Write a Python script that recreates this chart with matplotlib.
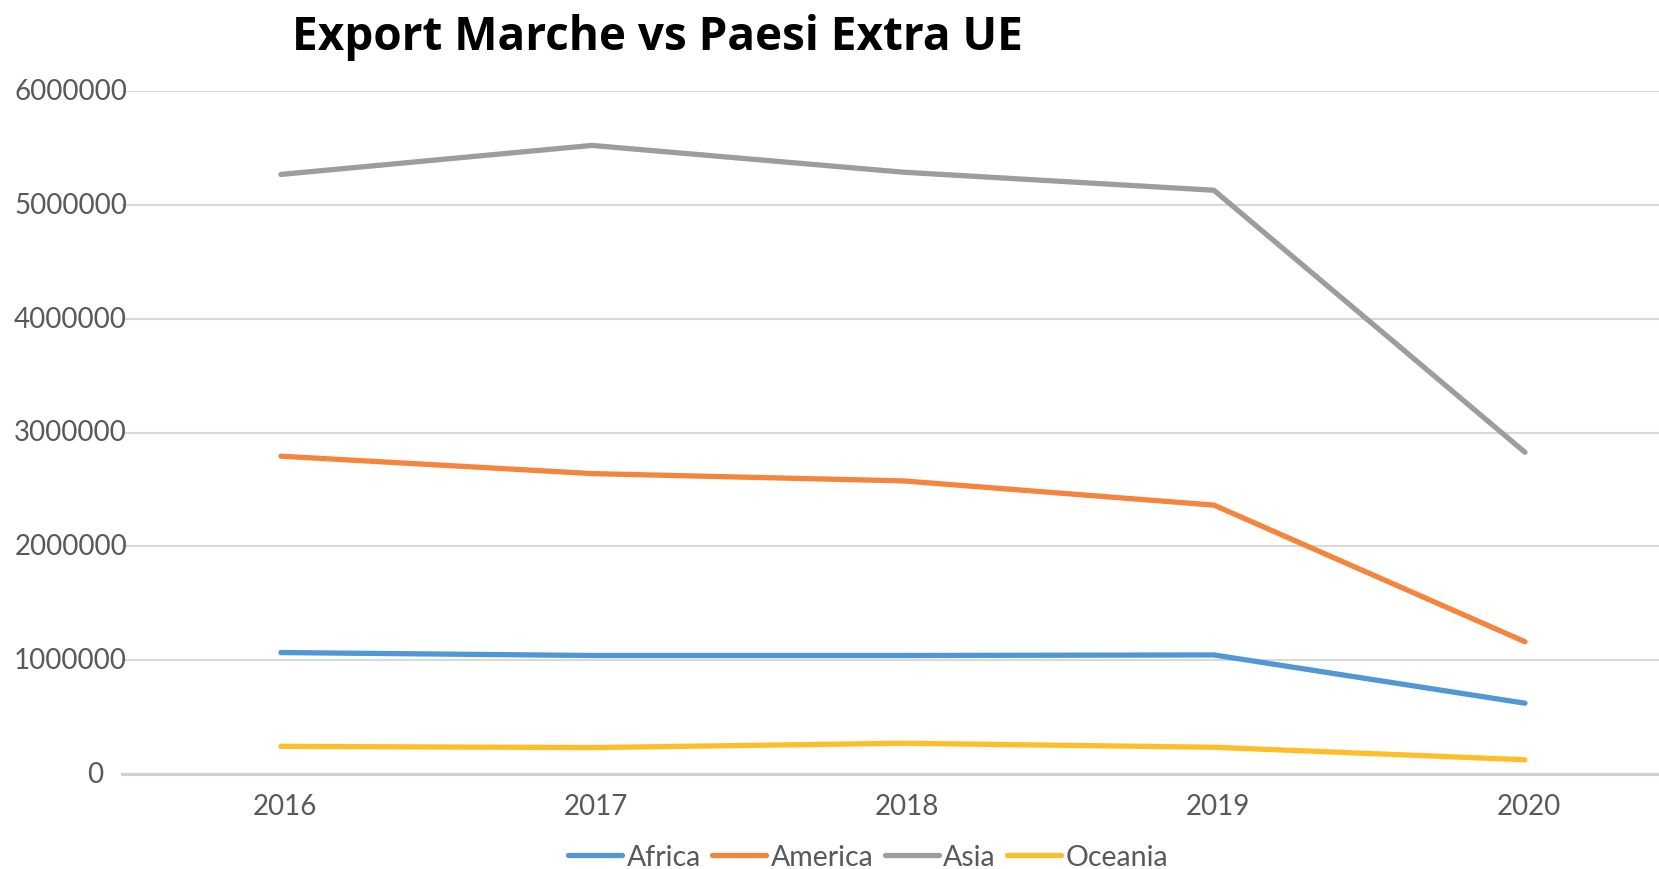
import numpy as np
import matplotlib
matplotlib.use("Agg")
import matplotlib.pyplot as plt
from matplotlib.transforms import ScaledTranslation

years = ['2016', '2017', '2018', '2019', '2020']
africa = [1067000, 1041000, 1041000, 1046000, 622000]
america = [2792000, 2639000, 2575000, 2362000, 1162000]
asia = [5267000, 5522000, 5287000, 5128000, 2826000]
oceania = [243000, 232000, 270000, 235000, 125000]

series = [('Africa', africa, '#5097d5'),
          ('America', america, '#f5843c'),
          ('Asia', asia, '#9c9e9e'),
          ('Oceania', oceania, '#fdbe2a')]

y_ticks = [0, 1000000, 2000000, 3000000, 4000000, 5000000, 6000000]

plt.rcParams['font.family'] = ['Lato', 'DejaVu Sans']
text_col = '#595959'

fig = plt.figure(figsize=(16.59, 8.70), dpi=100)
ax = fig.add_axes([122 / 1659, 95 / 870, 1 - 122 / 1659, 683 / 870])

x = np.arange(len(years))
for name, vals, col in series:
    ax.plot(x, vals, color=col, lw=3.8, label=name,
            solid_capstyle='round', solid_joinstyle='round', zorder=3)

ax.set_xlim(-0.511, 4.431)
ax.set_ylim(0, 6000000)

# gridlines
for v in y_ticks[1:]:
    ax.axhline(v, color='#d9d9d9', lw=1.5, zorder=1)
ax.axhline(0, color='#d0d0d0', lw=2.3, zorder=2, clip_on=False)

for s in ax.spines.values():
    s.set_visible(False)
ax.set_yticks([])
ax.set_xticks(x)
ax.set_xticklabels(years, fontsize=20, color=text_col)
ax.tick_params(axis='x', length=0, pad=14)
for t in ax.get_xticklabels():
    t.set_transform(t.get_transform() + ScaledTranslation(0.04, 0, fig.dpi_scale_trans))

# y labels placed like the Excel export (long labels run up to the gridline)
for v in y_ticks:
    lab = str(v)
    dx = 5 if len(lab) > 1 else -19
    t = ax.text(0, v, lab, transform=ax.get_yaxis_transform(), ha='right', va='center',
                fontsize=20, color=text_col)
    t.set_transform(t.get_transform() + ScaledTranslation(dx / 100, 0, fig.dpi_scale_trans))

fig.text(657 / 1659, 1 - 50 / 870, 'Export Marche vs Paesi Extra UE', ha='center', va='baseline',
         fontsize=33, fontweight='bold', family=['Open Sans', 'DejaVu Sans'], color='black')

leg = fig.legend(loc='center', bbox_to_anchor=(868 / 1659, 1 - 858 / 870), ncol=4, frameon=False,
                 fontsize=20.5, handlelength=1.9, handletextpad=0.15, columnspacing=0.4,
                 borderaxespad=0)
for t in leg.get_texts():
    t.set_color(text_col)
for h in leg.get_lines():
    h.set_linewidth(3.8)
    h.set_solid_capstyle('round')

plt.savefig('out.png', dpi=100)
